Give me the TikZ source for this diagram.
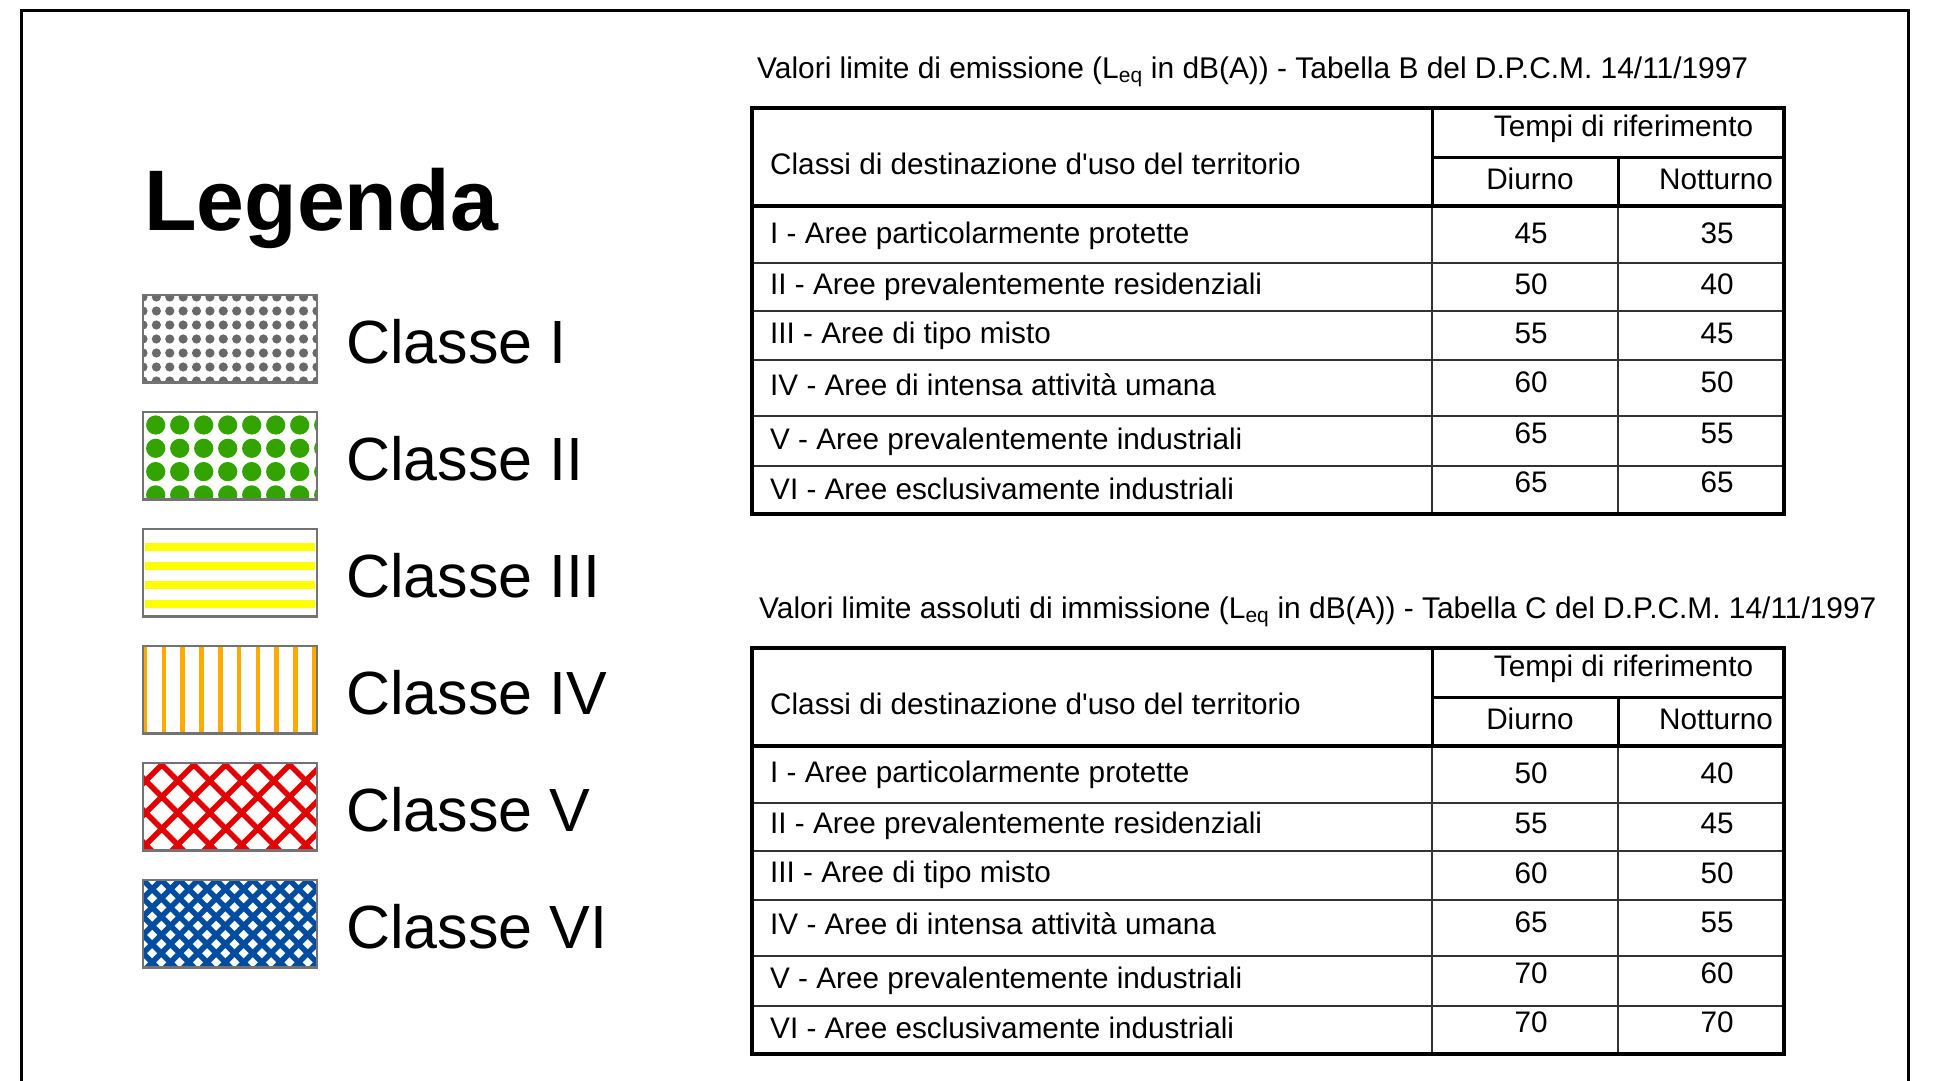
\documentclass[tikz,border=0pt]{standalone}
\usepackage{fontspec}
\setmainfont{Liberation Sans}
\tikzset{>=stealth}
\definecolor{dotgray}{RGB}{105,105,105}
\definecolor{swgray}{RGB}{115,115,115}
\definecolor{clgreen}{RGB}{51,163,0}
\definecolor{clyellow}{RGB}{255,255,0}
\definecolor{clorange}{RGB}{255,170,0}
\definecolor{clred}{RGB}{228,0,0}
\definecolor{clblue}{RGB}{0,76,160}
\tikzset{
  txt/.style={inner sep=0pt, anchor=base, font=\fontsize{29.7}{34}\selectfont},
  txtl/.style={txt, anchor=base west},
  ttl/.style={txtl, font=\fontsize{29.9}{34}\selectfont},
  classlab/.style={inner sep=0pt, anchor=base west, font=\fontsize{61}{65}\selectfont},
  swatch/.style={draw=swgray, line width=2.5pt},
  bold rule/.style={line width=4pt},
  mid rule/.style={line width=3pt},
  thin rule/.style={line width=1.4pt, draw=black!80}
}

\begin{document}
\begin{tikzpicture}[x=1pt, y=-1pt]
    \useasboundingbox (0,0) rectangle (1933,1081);
    \draw[line width=3pt] (21,1095) -- (21,11) -- (1908,11) -- (1908,1095);
    \node[anchor=base west, inner sep=0pt, font=\fontsize{86}{90}\selectfont\bfseries] (leg) at (144,230) {Legenda};
    \foreach \c [count=\i] in {I,II,III,IV,V,VI}
        \node[classlab] (cl\i) at (346,{246+117*\i}) {Classe \c};
    \begin{scope}
        \clip (143,295) rectangle (317,382.5);
        \foreach \i in {0,...,13} \foreach \j in {0,...,6}
            \fill[dotgray] ({143+13.38*\i},{297+14*\j}) circle (4.6pt);
    \end{scope}
    \draw[swatch] (143,295) rectangle (317,382.5);
    \begin{scope}
        \clip (143,412) rectangle (317,499.5);
        \foreach \i in {0,...,7} \foreach \j in {0,...,3}
            \fill[clgreen] ({155.7+24*\i},{425+23.3*\j}) circle (9.6pt);
    \end{scope}
    \draw[swatch] (143,412) rectangle (317,499.5);
    \foreach \j in {0,...,3}
        \fill[clyellow] (145,{543+19*\j}) rectangle (315,{551+19*\j});
    \draw[swatch] (143,529) rectangle (317,616.5);
    \foreach \i in {0,...,9}
        \fill[clorange] ({142.7+18.8*\i},646) rectangle ({147.3+18.8*\i},733.5);
    \draw[swatch] (143,646) rectangle (317,733.5);
    \begin{scope}
        \clip (143,763) rectangle (317,850.5);
        \foreach \k in {-3,...,7} {
            \draw[clred, line width=5.5pt] ({128+32*\k},763) -- ++(100,100);
            \draw[clred, line width=5.5pt] ({195.4+32*\k},763) -- ++(-100,100);
        }
    \end{scope}
    \draw[swatch] (143,763) rectangle (317,850.5);
    \begin{scope}
        \clip (143,880) rectangle (317,967.5);
        \foreach \k in {-5,...,14} {
            \draw[clblue, line width=5.5pt] ({143+18.3*\k},880) -- ++(100,100);
            \draw[clblue, line width=5.5pt] ({143+18.3*\k},880) -- ++(-100,100);
        }
    \end{scope}
    \draw[swatch] (143,880) rectangle (317,967.5);
    \node[ttl] (ttlB) at (757,78.5) {Valori limite di emissione (L\textsubscript{eq} in dB(A)) - Tabella B del D.P.C.M. 14/11/1997};
    \node[ttl] (ttlC) at (759,618.5) {Valori limite assoluti di immissione (L\textsubscript{eq} in dB(A)) - Tabella C del D.P.C.M. 14/11/1997};
    \foreach \tb/\dy in {B/0,C/540} {
        \begin{scope}[shift={(0,\dy)}]
            \draw[thin rule] (1432,206) -- (1432,514) (1618,206) -- (1618,514);
            \foreach \y in {263,311,360,416,466}
                \draw[thin rule] (752,\y) -- (1784,\y);
            \draw[mid rule] (1432,157) -- (1784,157) (1618,157) -- (1618,206) (1432,108) -- (1432,206);
            \draw[bold rule] (752,206) -- (1784,206);
            \draw[bold rule] (752,108) rectangle (1784,514);
            \node[txtl] (hd\tb) at (770,174.5) {Classi di destinazione d\textquotesingle uso del territorio};
            \node[txt] (tempi\tb) at (1623.5,136) {Tempi di riferimento};
            \node[txt] (diurno\tb) at (1530,189.5) {Diurno};
            \node[txt] (notturno\tb) at (1716,189.5) {Notturno};
        \end{scope}
    }
    \foreach \lab/\yl/\yn/\db/\nb/\dc/\nc [count=\r] in {
        I - Aree particolarmente protette/243.5/243.5/45/35/50/40,
        II - Aree prevalentemente residenziali/294/294/50/40/55/45,
        III - Aree di tipo misto/343.5/343.5/55/45/60/50,
        IV - Aree di intensa attività umana/395/392.5/60/50/65/55,
        V - Aree prevalentemente industriali/449.5/443.5/65/55/70/60,
        VI - Aree esclusivamente industriali/499.5/492.5/65/65/70/70} {
        \node[txtl] (labB\r) at (770,\yl) {\lab};
        \node[txt] (dB\r) at (1531,\yn) {\db};
        \node[txt] (nB\r) at (1717,\yn) {\nb};
        \node[txtl] (labC\r) at (770,{\yl+539}) {\lab};
        \node[txt] (dC\r) at (1531,{\yn+539.5}) {\dc};
        \node[txt] (nC\r) at (1717,{\yn+539.5}) {\nc};
    }
\end{tikzpicture}
\end{document}
